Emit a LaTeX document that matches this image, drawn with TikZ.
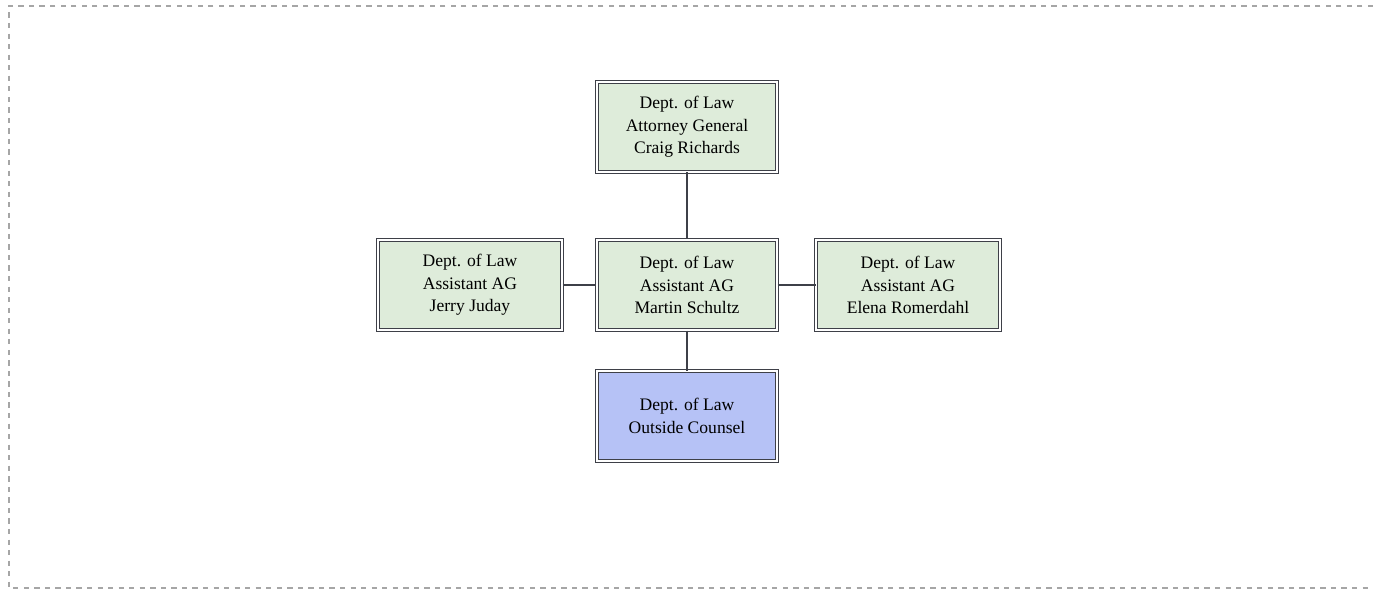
\documentclass[tikz,border=0pt]{standalone}
\usepackage{fontspec}
\setmainfont{Liberation Serif}
\usepackage{tikz}
\usetikzlibrary{positioning}
\definecolor{lawgreen}{RGB}{222,236,218}
\definecolor{lawblue}{RGB}{182,194,246}
\definecolor{lawline}{RGB}{62,64,72}

\begin{document}
\begin{tikzpicture}[x=0.02cm, y=-0.02cm,
    office/.style={draw=lawline, double=white, double distance=1.4pt, line width=0.6pt, fill=lawgreen, minimum width=3.6cm, minimum height=1.8cm, align=center, font=\fontsize{10}{12.9}\selectfont},
    link/.style={lawline, line width=1.1pt}]
  \useasboundingbox (0,0) rectangle (1373,591);
  \draw[gray!70, dashed, line width=0.6pt] (1373,6) -- (9,6) -- (9,588) -- (1373,588);

  \node[office] (mid) at (687,285) {Dept. of Law\\Assistant AG\\Martin Schultz};
  \node[office, above=1.34cm of mid] (ag) {Dept. of Law\\Attorney General\\Craig Richards};
  \node[office, minimum width=3.68cm, left=0.68cm of mid] (juday) {Dept. of Law\\Assistant AG\\Jerry Juday};
  \node[office, minimum width=3.68cm, right=0.76cm of mid] (romer) {Dept. of Law\\Assistant AG\\Elena Romerdahl};
  \node[office, fill=lawblue, below=0.8cm of mid] (counsel) {Dept. of Law\\Outside Counsel};

  \draw[link] (ag) -- (mid);
  \draw[link] (juday) -- (mid);
  \draw[link] (mid) -- (romer);
  \draw[link] (mid) -- (counsel);
\end{tikzpicture}
\end{document}
